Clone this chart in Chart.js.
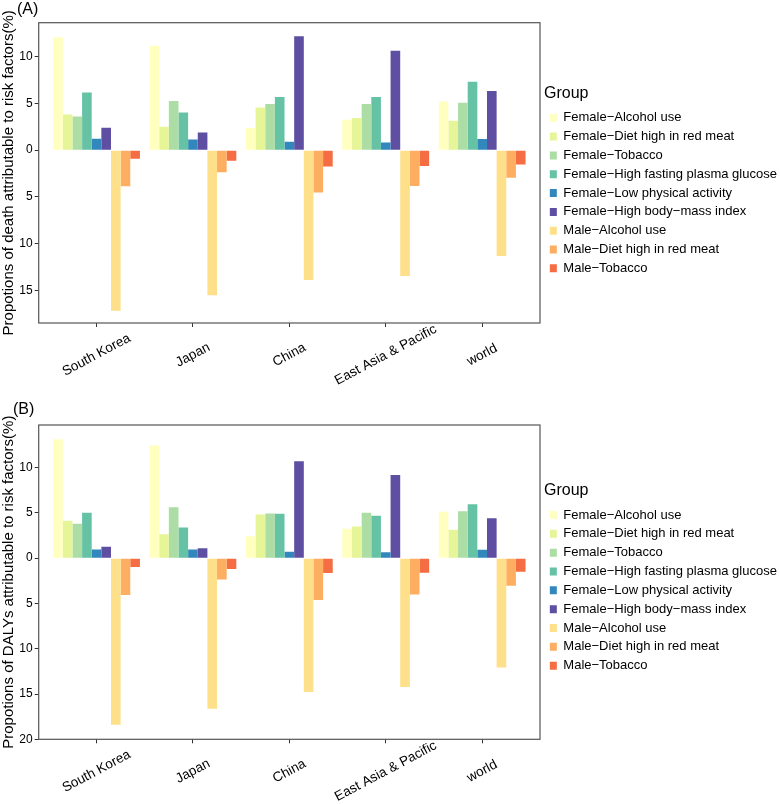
<!DOCTYPE html>
<html>
<head>
<meta charset="utf-8">
<script src="https://cdn.jsdelivr.net/npm/chart.js@4/dist/chart.umd.min.js"></script>
<style>
  html, body { margin: 0; padding: 0; background: #ffffff; }
  .panel { position: absolute; left: 0; width: 780px; height: 402px; }
  .tag { position: absolute; font: 16px 'Liberation Sans', Arial, sans-serif; line-height: 16px; color: #000; }
  canvas { display: block; }
</style>
</head>
<body>
<div class="panel" style="top:0px">
  <canvas id="chartA" width="780" height="402"></canvas>
  <div class="tag" style="left:17px; top:1px;">(A)</div>
</div>
<div class="panel" style="top:402px">
  <canvas id="chartB" width="780" height="402"></canvas>
  <div class="tag" style="left:13px; top:-1px;">(B)</div>
</div>
<script>
// ---------------- data ----------------
const categories = ['South Korea', 'Japan', 'China', 'East Asia & Pacific', 'world'];
const groupLabels = [
  'Female\u2212Alcohol use',
  'Female\u2212Diet high in red meat',
  'Female\u2212Tobacco',
  'Female\u2212High fasting plasma glucose',
  'Female\u2212Low physical activity',
  'Female\u2212High body\u2212mass index',
  'Male\u2212Alcohol use',
  'Male\u2212Diet high in red meat',
  'Male\u2212Tobacco'
];
const groupColors = ['#FFFFBF', '#E6F598', '#ABDDA4', '#66C2A5', '#3288BD', '#5E4FA2', '#FEE08B', '#FDAE61', '#F46D43'];

// (A) proportions of death attributable to risk factors (%), males plotted downward
const deathFemaleAlcohol  = [12.07, 11.18, 2.36, 3.25, 5.21];
const deathFemaleRedMeat  = [3.82, 2.50, 4.57, 3.43, 3.14];
const deathFemaleTobacco  = [3.61, 5.25, 4.93, 4.93, 5.07];
const deathFemaleGlucose  = [6.18, 4.04, 5.68, 5.68, 7.32];
const deathFemaleActivity = [1.21, 1.14, 0.89, 0.82, 1.18];
const deathFemaleBMI      = [2.39, 1.89, 12.18, 10.64, 6.32];
const deathMaleAlcohol    = [-17.20, -15.54, -13.90, -13.46, -11.32];
const deathMaleRedMeat    = [-3.86, -2.36, -4.52, -3.84, -2.96];
const deathMaleTobacco    = [-0.93, -1.14, -1.75, -1.70, -1.54];

// (B) proportions of DALYs attributable to risk factors (%)
const dalyFemaleAlcohol  = [13.13, 12.43, 2.43, 3.24, 5.11];
const dalyFemaleRedMeat  = [4.12, 2.65, 4.82, 3.49, 3.13];
const dalyFemaleTobacco  = [3.79, 5.63, 4.93, 5.00, 5.18];
const dalyFemaleGlucose  = [5.00, 3.38, 4.89, 4.67, 5.96];
const dalyFemaleActivity = [0.96, 0.96, 0.70, 0.66, 0.92];
const dalyFemaleBMI      = [1.25, 1.10, 10.70, 9.17, 4.41];
const dalyMaleAlcohol    = [-18.38, -16.62, -14.78, -14.23, -12.06];
const dalyMaleRedMeat    = [-4.08, -2.35, -4.63, -4.00, -3.05];
const dalyMaleTobacco    = [-0.99, -1.21, -1.65, -1.62, -1.51];

const yTicksA = [-15, -10, -5, 0, 5, 10];
const yTicksB = [-20, -15, -10, -5, 0, 5, 10];

const deathSeries = [deathFemaleAlcohol, deathFemaleRedMeat, deathFemaleTobacco, deathFemaleGlucose,
  deathFemaleActivity, deathFemaleBMI, deathMaleAlcohol, deathMaleRedMeat, deathMaleTobacco];
const dalySeries = [dalyFemaleAlcohol, dalyFemaleRedMeat, dalyFemaleTobacco, dalyFemaleGlucose,
  dalyFemaleActivity, dalyFemaleBMI, dalyMaleAlcohol, dalyMaleRedMeat, dalyMaleTobacco];

// ---------------- chart ----------------
const FONT = "'Liberation Sans', Arial, Helvetica, sans-serif";
Chart.defaults.font.family = FONT;
Chart.defaults.color = '#000';

const framePlugin = {
  id: 'frame',
  afterDatasetsDraw(chart) {
    const a = chart.chartArea, ctx = chart.ctx;
    ctx.save();
    ctx.strokeStyle = '#555555';
    ctx.lineWidth = 1.2;
    ctx.strokeRect(a.left, a.top, a.right - a.left, a.bottom - a.top);
    ctx.restore();
  }
};

// let the legend box reach the right edge of the canvas so long labels are not clipped
const wideLegendPlugin = {
  id: 'wideLegend',
  afterLayout(chart) {
    const lg = chart.legend;
    if (lg) { lg.right = chart.width; lg.width = lg.right - lg.left; }
  }
};

// center the rotated category labels under their ticks
const centerLabelsPlugin = {
  id: 'centerLabels',
  beforeDraw(chart) {
    const s = chart.scales.x;
    const items = s.getLabelItems();
    items.forEach((it, i) => {
      it.textOffset = 0;
      it.options.textAlign = 'center';
      it.options.textBaseline = 'middle';
      it.options.translation = [s.getPixelForValue(s.ticks[i].value), s.top + 32];
    });
  }
};

function makeChart(id, series, yTitle, yMin, yMax, yTicks, pad, legendTitlePad) {
  const datasets = series.map((vals, k) => ({
    label: groupLabels[k],
    data: vals.map((v, i) => ({ x: i, y: v })),
    backgroundColor: groupColors[k],
    borderWidth: 0,
    barPercentage: 1.0,
    categoryPercentage: 0.9
  }));
  return new Chart(document.getElementById(id), {
    type: 'bar',
    data: { datasets },
    plugins: [framePlugin, wideLegendPlugin, centerLabelsPlugin],
    options: {
      responsive: false,
      animation: false,
      devicePixelRatio: 1,
      layout: { padding: pad },
      plugins: {
        tooltip: { enabled: false },
        legend: {
          position: 'right',
          align: 'start',
          title: {
            display: true,
            text: 'Group',
            position: 'start',
            color: '#000',
            font: { size: 16, family: FONT },
            padding: legendTitlePad
          },
          labels: {
            boxWidth: 7,
            boxHeight: 8,
            padding: 5.83,
            color: '#000',
            font: { size: 13, family: FONT }
          }
        }
      },
      scales: {
        x: {
          type: 'linear',
          min: -0.6,
          max: 4.6,
          offset: false,
          afterBuildTicks: s => { s.ticks = categories.map((c, i) => ({ value: i })); },
          afterFit: s => { s.height = 64; },
          grid: { display: true, offset: false, drawOnChartArea: false, drawTicks: true, tickLength: 4, color: '#333' },
          border: { display: false },
          ticks: {
            autoSkip: false,
            minRotation: 28,
            maxRotation: 28,
            padding: 2,
            color: '#000',
            font: { size: 13.5, family: FONT },
            callback: v => categories[v]
          }
        },
        y: {
          type: 'linear',
          min: yMin,
          max: yMax,
          afterBuildTicks: s => { s.ticks = yTicks.map(v => ({ value: v })); },
          afterFit: s => { s.width = 38.7; },
          grid: { display: true, drawOnChartArea: false, drawTicks: true, tickLength: 4, color: '#333' },
          border: { display: false },
          ticks: {
            padding: 2,
            color: '#000',
            font: { size: 12, family: FONT },
            callback: v => String(Math.abs(v))
          },
          title: {
            display: true,
            text: yTitle,
            color: '#000',
            padding: 0,
            font: { size: 15, family: FONT }
          }
        },
        y2: {
          type: 'linear',
          position: 'right',
          display: true,
          afterFit: s => { s.width = 4; },
          grid: { display: false },
          border: { display: false },
          ticks: { display: false }
        }
      }
    }
  });
}

makeChart('chartA', deathSeries, 'Propotions of death attributable to risk factors(%)',
  -18.5, 13.64, yTicksA, { top: 22.7, left: 0, right: 127.2, bottom: 15 }, { top: 62.6, bottom: 0.9 });
makeChart('chartB', dalySeries, 'Propotions of DALYs attributable to risk factors(%)',
  -20, 14.7, yTicksB, { top: 23, left: 0, right: 127.2, bottom: 0.7 }, { top: 57.7, bottom: 0.8 });
</script>
</body>
</html>
